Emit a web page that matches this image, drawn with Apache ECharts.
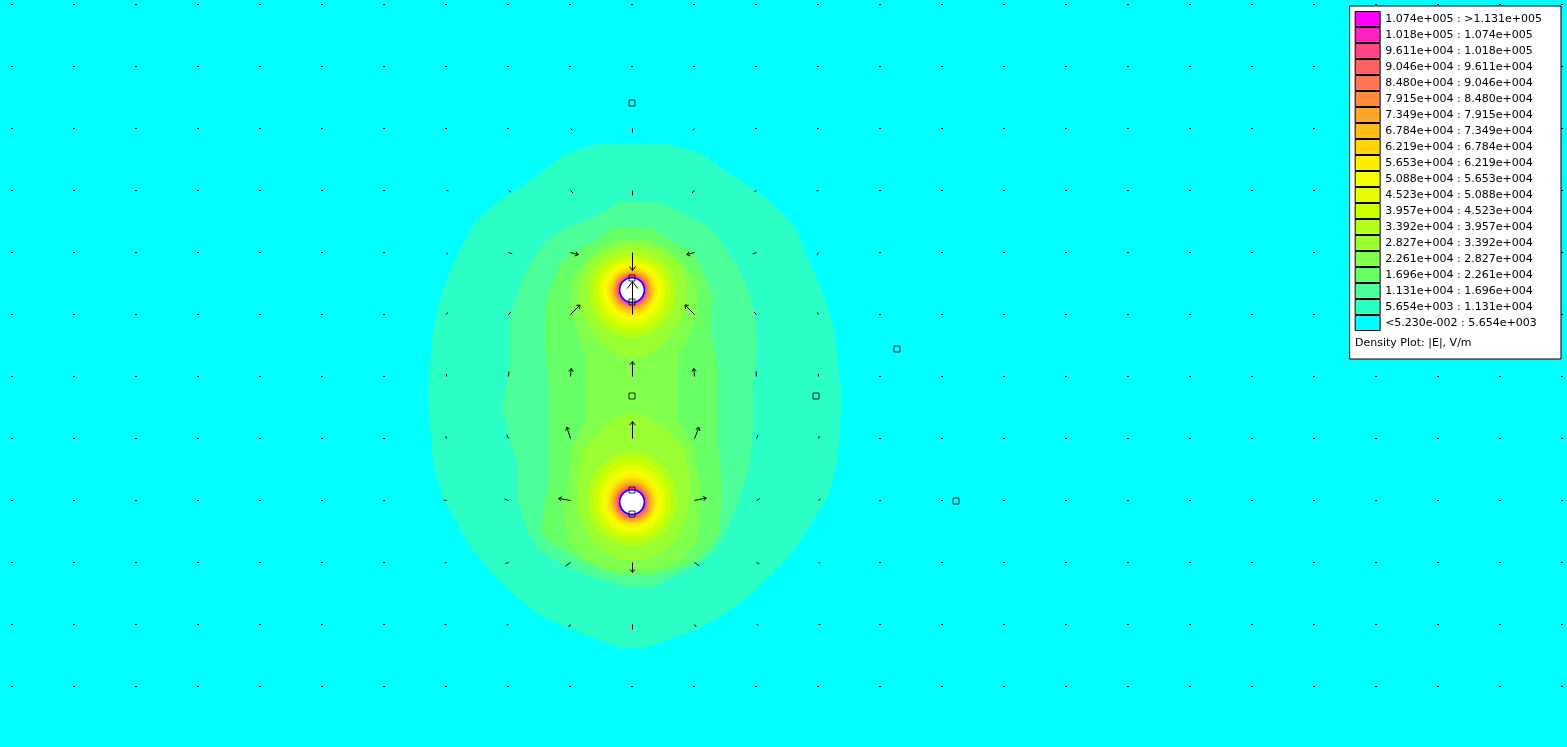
<!DOCTYPE html>
<html><head><meta charset="utf-8">
<script src="https://cdn.jsdelivr.net/npm/echarts@6/dist/echarts.min.js"></script>
<style>html,body{margin:0;padding:0;background:#00ffff;overflow:hidden}#c{width:1567px;height:747px}</style>
</head><body><div id="c"></div>
<script>
// ---- legend / contour levels (index 0 = lowest) ----
const levelLabels = [
  '<5.230e-002 : 5.654e+003', '5.654e+003 : 1.131e+004', '1.131e+004 : 1.696e+004',
  '1.696e+004 : 2.261e+004', '2.261e+004 : 2.827e+004', '2.827e+004 : 3.392e+004',
  '3.392e+004 : 3.957e+004', '3.957e+004 : 4.523e+004', '4.523e+004 : 5.088e+004',
  '5.088e+004 : 5.653e+004', '5.653e+004 : 6.219e+004', '6.219e+004 : 6.784e+004',
  '6.784e+004 : 7.349e+004', '7.349e+004 : 7.915e+004', '7.915e+004 : 8.480e+004',
  '8.480e+004 : 9.046e+004', '9.046e+004 : 9.611e+004', '9.611e+004 : 1.018e+005',
  '1.018e+005 : 1.074e+005', '1.074e+005 : >1.131e+005'
];
const levelColors = [
  '#00ffff', '#2bffc6', '#4dff99', '#66ff66', '#80ff4d', '#99ff33', '#b3ff1a',
  '#ccff00', '#e6ff00', '#f5ff00', '#ffee00', '#ffd40a', '#ffbb1a', '#ffa52a',
  '#ff8c3c', '#ff7650', '#ff6066', '#ff4488', '#ff22c0', '#ff00ff'
];
const plotTitle = 'Density Plot: |E|, V/m';

// ---- contour outlines, rows: [y(mm), xLeft(mm), xRight(mm)] ----
const level1Rows = [
  [35.7,-3.2,3.3],[35.0,-5.6,6.0],[34.5,-6.9,7.3],[33.3,-8.4,8.8],[31.7,-10.5,11.3],
  [30.3,-12.9,13.3],[28.3,-15.2,15.5],[27.0,-16.2,16.5],[23.7,-17.9,17.8],[20.3,-19.2,19.3],
  [17.0,-19.9,20.3],[13.7,-20.2,20.6],[10.3,-20.4,21.0],[7.0,-20.2,20.8],[3.7,-19.9,20.5],
  [0.3,-18.9,19.6],[-3.0,-17.2,17.5],[-5.0,-15.9,16.3],[-7.3,-14.0,14.1],[-9.7,-11.5,11.6],
  [-11.7,-8.9,8.8],[-13.0,-5.9,6.3],[-14.0,-3.2,3.6],[-14.8,-1.2,1.3]
];
const level2Rows = [
  [29.8,-1.5,2.5],[29.0,-2.5,4.5],[28.0,-4.5,6.5],[27.3,-6.5,7.8],[26.0,-8.5,8.8],
  [23.7,-10.2,10.4],[20.7,-11.5,11.8],[18.3,-12.2,12.3],[15.3,-12.2,12.5],[12.3,-12.4,12.2],
  [9.3,-13.0,12.1],[7.0,-12.5,12.1],[3.7,-11.5,11.8],[0.3,-11.5,10.8],[-3.0,-10.5,9.5],
  [-5.0,-9.2,8.3],[-6.3,-7.2,6.8],[-7.7,-3.9,4.0],[-8.7,-0.5,2.1]
];
const level3Rows = [
  [27.3,-1.7,1.8],[26.0,-3.5,3.8],[25.0,-5.5,5.8],[23.7,-7.2,6.8],[20.3,-8.5,8.1],
  [17.0,-8.7,7.8],[13.7,-8.5,8.5],[10.0,-8.2,8.5],[6.0,-8.2,8.5],[2.0,-8.2,9.0],
  [-3.0,-9.2,8.8],[-4.3,-7.9,8.1],[-6.0,-5.2,6.5],[-7.0,-3.2,4.1],[-7.5,-1.2,1.8]
];
const level4Rows = [
  [26.0,-1.5,1.8],[25.2,-3.2,3.5],[23.7,-4.8,5.2],[22.0,-6.0,6.4],[18.7,-6.2,6.6],[16.0,-5.2,5.6],
  [14.3,-4.6,4.6],[8.0,-4.6,4.6],[5.3,-6.1,6.3],[2.0,-6.4,6.7],[-1.3,-6.8,6.9],
  [-4.0,-6.4,6.5],[-6.0,-4.5,5.0],[-7.0,-2.2,2.3]
];
const level5TopRows = [
  [25.6,-1.0,1.2],[25.0,-2.8,3.0],[23.7,-4.4,4.7],[21.7,-5.3,5.5],[19.7,-5.2,5.4],
  [18.0,-4.7,4.9],[16.7,-3.9,4.0],[15.5,-2.8,2.9],[14.2,-1.0,1.1]
];
const level5BottomRows = [
  [8.6,-1.0,1.3],[7.3,-3.0,3.2],[5.3,-4.8,5.2],[2.0,-5.5,5.8],[-1.3,-5.5,5.6],
  [-3.7,-4.3,4.6],[-5.0,-3.0,3.3],[-6.0,-1.0,1.3]
];
// rings around each conductor for levels 6..19 (mm): half-width, extent upward, extent downward
const topRingRx   = [4.4,3.8,3.3,2.9,2.55,2.25,2.02,1.86,1.72,1.6,1.5,1.42,1.36,1.3];
const topRingUp   = [4.0,3.4,3.0,2.7,2.4,2.18,1.97,1.82,1.7,1.58,1.49,1.41,1.35,1.3];
const topRingDown = [4.8,4.1,3.5,3.0,2.65,2.35,2.08,1.9,1.75,1.62,1.52,1.43,1.37,1.3];
const botRingRx   = [4.5,3.9,3.35,2.95,2.6,2.28,2.05,1.88,1.74,1.62,1.51,1.43,1.36,1.3];
const botRingUp   = [5.1,4.4,3.7,3.2,2.8,2.4,2.12,1.93,1.77,1.63,1.52,1.43,1.36,1.3];
const botRingDown = [4.4,3.7,3.2,2.85,2.5,2.22,2.0,1.85,1.72,1.6,1.5,1.42,1.35,1.3];

// conductors: [x, y, radius] (mm)
const conductors = [[0, 21.0, 1.23], [0, -0.2, 1.23]];
// mesh/geometry nodes (mm)
const nodes = [[0,39.7],[0,22.2],[0,19.8],[0,10.4],[0,1.0],[0,-1.4],[26.5,15.1],[18.4,10.4],[32.4,-0.1]];

// vector grid (mm)
const gridX = [-62,-55.8,-49.6,-43.4,-37.2,-31,-24.8,-18.6,-12.4,-6.2,0,6.2,12.4,18.6,24.8,31,37.2,43.4,49.6,55.8,62,68.2,74.4,80.6,86.8,93];
const gridY = [49.6,43.4,37.2,31,24.8,18.6,12.4,6.2,0,-6.2,-12.4,-18.6];
// visible field arrows: [x, y, angle(deg), length(mm)]
const arrows = [
  [-6.2,37.2,-45,0.25],[0,37.2,-90,0.4],[6.2,37.2,-135,0.25],
  [-18.6,31,-10,0.2],[-12.4,31,-30,0.3],[-6.2,31,-45,0.35],[0,31,-90,0.5],[6.2,31,-135,0.35],[12.4,31,-150,0.25],[18.6,31,-170,0.2],
  [-18.6,24.8,-60,0.25],[-12.4,24.8,-20,0.4],[-6.2,24.8,-15,0.8],[0,24.8,-90,1.8],[6.2,24.8,-165,0.8],[12.4,24.8,-160,0.4],[18.6,24.8,-120,0.3],
  [-18.6,18.6,60,0.25],[-12.4,18.6,45,0.35],[-6.2,18.6,45,1.35],[0,18.6,90,3.3],[6.2,18.6,135,1.35],[12.4,18.6,135,0.35],[18.6,18.6,120,0.25],
  [-18.6,12.4,90,0.25],[-12.4,12.4,85,0.5],[-6.2,12.4,85,0.8],[0,12.4,90,1.5],[6.2,12.4,95,0.8],[12.4,12.4,95,0.5],[18.6,12.4,95,0.25],
  [-18.6,6.2,110,0.25],[-12.4,6.2,115,0.4],[-6.2,6.2,108,1.2],[0,6.2,90,1.7],[6.2,6.2,68,1.2],[12.4,6.2,65,0.4],[18.6,6.2,70,0.25],
  [-18.6,0,170,0.25],[-12.4,0,160,0.4],[-6.2,0,170,1.2],[0,0,90,0],[6.2,0,12,1.2],[12.4,0,30,0.4],[18.6,0,40,0.25],
  [-18.6,-6.2,-170,0.2],[-12.4,-6.2,-160,0.3],[-6.2,-6.2,-145,0.6],[0,-6.2,-90,1.0],[6.2,-6.2,-35,0.6],[12.4,-6.2,-25,0.3],[18.6,-6.2,-15,0.2],
  [-18.6,-12.4,180,0.2],[-12.4,-12.4,-165,0.2],[-6.2,-12.4,-125,0.3],[0,-12.4,-90,0.5],[6.2,-12.4,-55,0.3],[12.4,-12.4,-15,0.2],[18.6,-12.4,0,0.2]
];

// ---- geometry helpers ----
function rowsToPolygon(rows) {
  const right = rows.map(r => [r[2], r[0]]);
  const left = rows.slice().reverse().map(r => [r[1], r[0]]);
  return right.concat(left);
}
function ringPolygon(cx, cy, rx, up, down) {
  const pts = [];
  for (let i = 0; i < 72; i++) {
    const t = i / 72 * 2 * Math.PI, s = Math.sin(t);
    pts.push([cx + rx * Math.cos(t), cy + s * (s > 0 ? up : down)]);
  }
  return pts;
}
const levelPolys = levelLabels.map(() => []);
levelPolys[1].push(rowsToPolygon(level1Rows));
levelPolys[2].push(rowsToPolygon(level2Rows));
levelPolys[3].push(rowsToPolygon(level3Rows));
levelPolys[4].push(rowsToPolygon(level4Rows));
levelPolys[5].push(rowsToPolygon(level5TopRows), rowsToPolygon(level5BottomRows));
for (let k = 6; k < 20; k++) {
  const i = k - 6;
  levelPolys[k].push(ringPolygon(conductors[0][0], conductors[0][1], topRingRx[i], topRingUp[i], topRingDown[i]));
  levelPolys[k].push(ringPolygon(conductors[1][0], conductors[1][1], botRingRx[i], botRingUp[i], botRingDown[i]));
}

const FONT = '"DejaVu Sans", Verdana, sans-serif';

function levelSeries(k) {
  const polys = levelPolys[k];
  return {
    type: 'custom', name: levelLabels[k], silent: true,
    itemStyle: { color: levelColors[k] },
    data: polys.map((p, i) => [p[0][0], p[0][1], i]),
    renderItem: function (params, api) {
      const poly = polys[api.value(2)];
      return { type: 'polygon', shape: { points: poly.map(pt => api.coord(pt)) },
               style: { fill: levelColors[k], stroke: null } };
    }
  };
}

const arrowKeys = new Set(arrows.map(a => a[0].toFixed(1) + '_' + a[1].toFixed(1)));
const dotData = [];
gridY.forEach(y => gridX.forEach(x => {
  if (!arrowKeys.has(x.toFixed(1) + '_' + y.toFixed(1))) dotData.push([x, y]);
}));

const series = [];
for (let k = 0; k < 20; k++) series.push(levelSeries(k));

series.push({
  type: 'custom', name: 'conductors', silent: true,
  data: conductors,
  renderItem: function (params, api) {
    const c = api.coord([api.value(0), api.value(1)]);
    const e = api.coord([api.value(0) + api.value(2), api.value(1)]);
    return { type: 'circle', shape: { cx: c[0], cy: c[1], r: e[0] - c[0] },
             style: { fill: '#ffffff', stroke: '#0000ff', lineWidth: 1.5 } };
  }
});
series.push({
  type: 'custom', name: 'dots', silent: true,
  data: dotData,
  renderItem: function (params, api) {
    const p = api.coord([api.value(0), api.value(1)]);
    return { type: 'rect', shape: { x: Math.round(p[0]) - 1, y: Math.round(p[1]), width: 2, height: 1 },
             style: { fill: '#000' } };
  }
});
series.push({
  type: 'custom', name: 'arrows', silent: true,
  data: arrows,
  renderItem: function (params, api) {
    const x = api.value(0), y = api.value(1), a = api.value(2) * Math.PI / 180, len = api.value(3);
    if (!(len > 0)) return null;
    const p0 = api.coord([x, y]);
    const p1 = api.coord([x + len * Math.cos(a), y + len * Math.sin(a)]);
    const s0 = [Math.round(p0[0]) + 0.5, Math.round(p0[1]) + 0.5];
    const s1 = [p1[0] + 0.5, p1[1] + 0.5];
    const children = [{ type: 'line', shape: { x1: s0[0], y1: s0[1], x2: s1[0], y2: s1[1] },
                        style: { stroke: '#000', lineWidth: 1 } }];
    const dx = s1[0] - s0[0], dy = s1[1] - s0[1], L = Math.hypot(dx, dy);
    if (L >= 6) {
      const ux = dx / L, uy = dy / L, h = Math.max(3, Math.min(7, L * 0.22)), w = h * 0.75;
      children.push({ type: 'polyline', shape: { points: [
        [s1[0] - h * ux - w * uy, s1[1] - h * uy + w * ux], s1,
        [s1[0] - h * ux + w * uy, s1[1] - h * uy - w * ux]] },
        style: { stroke: '#000', lineWidth: 1, fill: null } });
    }
    return { type: 'group', children: children };
  }
});
series.push({
  type: 'scatter', name: 'nodes', silent: true,
  data: nodes, symbol: 'rect', symbolSize: 6,
  itemStyle: { color: 'rgba(0,0,0,0)', borderColor: '#000', borderWidth: 1 }
});

const chart = echarts.init(document.getElementById('c'), null, { renderer: 'canvas' });
chart.setOption({
  backgroundColor: levelColors[0],
  animation: false,
  grid: { left: 0, right: 0, top: 0, bottom: 0 },
  xAxis: { type: 'value', min: -63.2, max: 93.5, show: false },
  yAxis: { type: 'value', min: -24.7, max: 50.0, show: false },
  tooltip: { show: false },
  title: {
    text: plotTitle, left: 1355, top: 338, padding: 0, z: 20,
    textStyle: { fontSize: 11, fontWeight: 'normal', color: '#000', fontFamily: FONT }
  },
  legend: {
    data: levelLabels.slice().reverse(),
    orient: 'vertical', right: 6, top: 6,
    padding: [5, 19, 28, 5],
    itemWidth: 25, itemHeight: 15, itemGap: 0,
    icon: 'rect', selectedMode: false,
    itemStyle: { borderColor: '#000', borderWidth: 1 },
    backgroundColor: '#ffffff', borderColor: '#000', borderWidth: 1,
    textStyle: { fontSize: 11, lineHeight: 15, color: '#000', fontFamily: FONT }
  },
  series: series
});
</script>
</body></html>
